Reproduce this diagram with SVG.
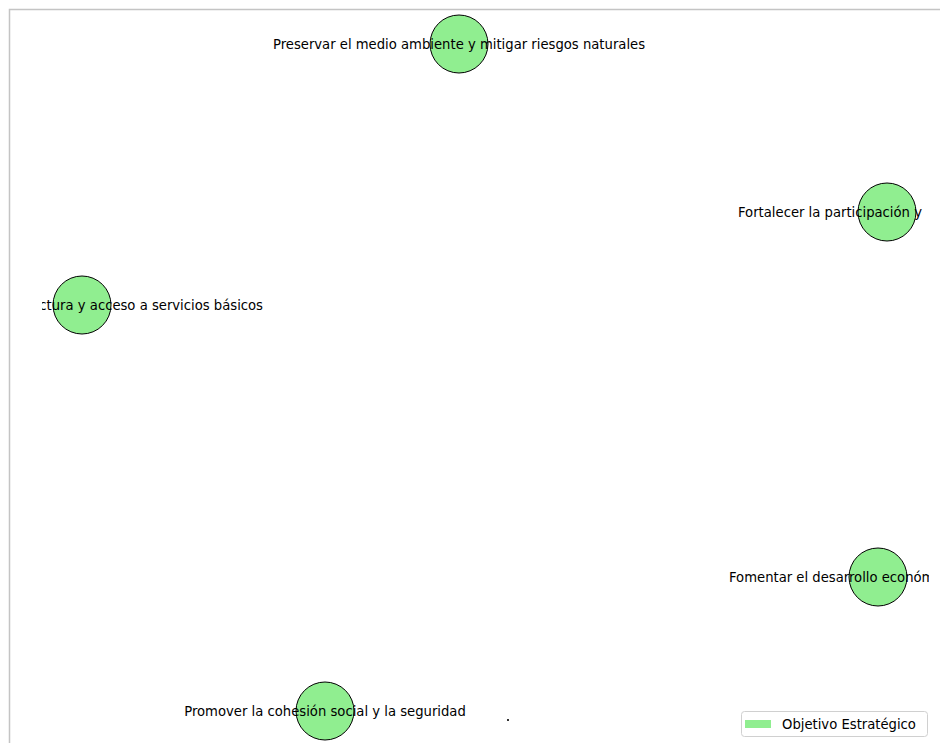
<svg xmlns="http://www.w3.org/2000/svg" width="940" height="743" viewBox="0 0 940 743">
<style>
.node{fill:#90ee90;stroke:#000;stroke-width:1}
.lbl{font-family:"DejaVu Sans",sans-serif;font-size:13.2px;fill:#000}
</style>
<defs>
<clipPath id="ax"><rect x="42" y="10" width="887" height="733"/></clipPath>
</defs>
<rect x="0" y="0" width="940" height="743" fill="#fff"/>
<path d="M9.5 743 V9.5 H940" fill="none" stroke="#c4c4c4" stroke-width="1.5"/>
<g id="edges"></g>
<g id="n1"><circle class="node" cx="459" cy="44" r="29"/><text class="lbl" x="459" y="48.5" text-anchor="middle" clip-path="url(#ax)">Preservar el medio ambiente y mitigar riesgos naturales</text></g>
<g id="n2"><circle class="node" cx="887" cy="212" r="29"/><text class="lbl" x="738" y="216.5" clip-path="url(#ax)">Fortalecer la participación y</text></g>
<g id="n3"><circle class="node" cx="82" cy="305" r="29"/><text class="lbl" x="263" y="309.5" text-anchor="end" clip-path="url(#ax)">ctura y acceso a servicios básicos</text></g>
<g id="n4"><circle class="node" cx="878" cy="577" r="29"/><text class="lbl" x="729" y="581.5" clip-path="url(#ax)">Fomentar el desarrollo económico</text></g>
<g id="n5"><circle class="node" cx="325" cy="711" r="29"/><text class="lbl" x="325" y="715.5" text-anchor="middle" clip-path="url(#ax)">Promover la cohesión social y la seguridad</text></g>
<rect x="507" y="719" width="2" height="2" fill="#333"/>
<g id="legend">
<rect x="741.5" y="711.5" width="186" height="25" rx="3" fill="#fff" fill-opacity="0.8" stroke="#d0d0d0"/>
<rect x="745" y="720" width="26" height="8" fill="#90ee90"/>
<text class="lbl" x="782" y="729">Objetivo Estratégico</text>
</g>
</svg>
